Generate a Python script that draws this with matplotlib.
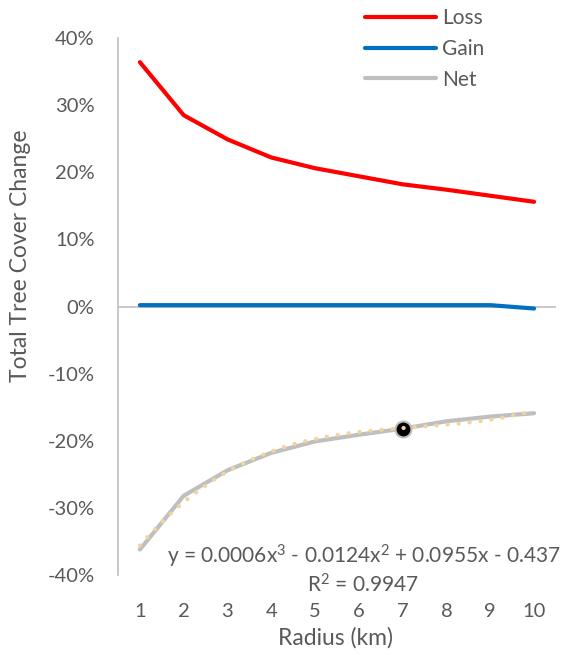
import matplotlib
matplotlib.use("Agg")
from matplotlib import pyplot as plt
import numpy as np

plt.rcParams['font.family'] = ['Lato', 'DejaVu Sans']
plt.rcParams['mathtext.fontset'] = 'custom'
plt.rcParams['mathtext.rm'] = 'Lato'
plt.rcParams['mathtext.it'] = 'Lato'

radius = [1, 2, 3, 4, 5, 6, 7, 8, 9, 10]
loss = [36.4, 28.5, 24.9, 22.2, 20.6, 19.4, 18.2, 17.4, 16.5, 15.6]
gain = [0.2, 0.2, 0.2, 0.2, 0.2, 0.2, 0.2, 0.2, 0.2, -0.3]
net = [-36.2, -28.2, -24.4, -21.8, -20.1, -19.1, -18.2, -17.1, -16.4, -15.9]
highlight_index = 6
y_ticks = [-40, -30, -20, -10, 0, 10, 20, 30, 40]
equation = r"y = 0.0006x$^{\mathrm{3}}$ - 0.0124x$^{\mathrm{2}}$ + 0.0955x - 0.437"
r_squared = r"R$^{\mathrm{2}}$ = 0.9947"

TEXT = "#595959"
AXIS = "#BFBFBF"

fig = plt.figure(figsize=(5.64, 6.55), dpi=100)
ax = fig.add_axes([118 / 564, 80 / 655, 438 / 564, 537 / 655])

ax.axhline(0, color=AXIS, linewidth=1.2, zorder=1)
ax.plot(radius, loss, "-", color="#FF0000", linewidth=3, solid_capstyle="round", label="Loss", zorder=3)
ax.plot(radius, gain, "-", color="#0070C0", linewidth=3, solid_capstyle="round", label="Gain", zorder=3)
ax.plot(radius, net, "-", color="#BFBFBF", linewidth=3, solid_capstyle="round", label="Net", zorder=3)
ax.plot(radius[highlight_index], net[highlight_index], "o", markersize=11.5,
        markerfacecolor="black", markeredgecolor="#BFBFBF", markeredgewidth=1.5, zorder=4)

coef = np.polyfit(radius, net, 3)
xs = np.linspace(radius[0], radius[-1], 200)
ax.plot(xs, np.polyval(coef, xs), color="#F2D59E", linewidth=3,
        linestyle=(0, (0.05, 2.6)), dash_capstyle="round", zorder=5)

ax.set_xlim(0.5, 10.5)
ax.set_ylim(-40, 40)
ax.set_xticks(radius)
ax.set_xticklabels([str(r) for r in radius])
ax.set_yticks(y_ticks)
ax.set_yticklabels([f"{t}%" for t in y_ticks])
ax.tick_params(axis="both", length=0, labelsize=14.5, colors=TEXT)
ax.tick_params(axis="x", pad=20)
ax.tick_params(axis="y", pad=17)
for side in ["top", "right", "bottom"]:
    ax.spines[side].set_visible(False)
ax.spines["left"].set_color(AXIS)
ax.spines["left"].set_linewidth(1.2)

fig.text(21 / 564, 1 - 256 / 655, "Total Tree Cover Change", rotation=90, ha="center", va="center",
         fontsize=16.5, color=TEXT)
fig.text(336 / 564, 1 - 638 / 655, "Radius (km)", ha="center", va="center", fontsize=16.5, color=TEXT)
fig.text(364 / 564, 1 - 556 / 655, equation, ha="center", va="center", fontsize=15, color=TEXT)
fig.text(363 / 564, 1 - 585 / 655, r_squared, ha="center", va="center", fontsize=15, color=TEXT)

fig.legend(loc="upper left", bbox_to_anchor=(365 / 564, 1 - 8 / 655), frameon=False, fontsize=15,
           labelcolor=TEXT, handlelength=3.4, handletextpad=0.3, labelspacing=0.52, borderpad=0,
           borderaxespad=0)

fig.savefig("out.png", dpi=100)
